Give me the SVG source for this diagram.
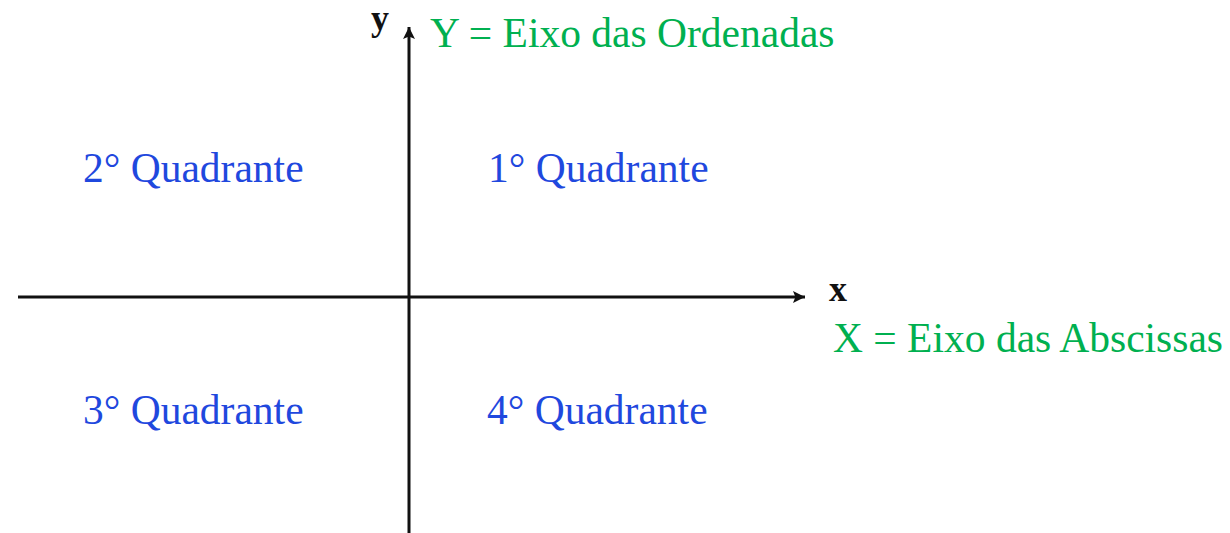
<svg xmlns="http://www.w3.org/2000/svg" width="1230" height="533" viewBox="0 0 1230 533">
<style>
.q{font-family:"Liberation Serif","Times New Roman",serif;font-size:41.5px;fill:#1f48de}
.g{font-family:"Liberation Serif","Times New Roman",serif;font-size:41.5px;fill:#00b050}
.ax{font-family:"Liberation Serif","Times New Roman",serif;font-size:36px;font-weight:bold;fill:#111}
.axis{stroke:#111;stroke-width:3;fill:none}
</style>
<defs>
<marker id="ah" viewBox="0 0 10 10" refX="10" refY="5" markerWidth="4" markerHeight="4" orient="auto" markerUnits="strokeWidth">
<path d="M0,0 L10,5 L0,10 L2,5 z" fill="#111"/>
</marker>
</defs>
<rect width="1230" height="533" fill="#fff"/>
<g id="connectors">
<line class="axis" x1="18" y1="297" x2="805" y2="297" marker-end="url(#ah)"/>
<line class="axis" x1="409" y1="533" x2="409" y2="27" marker-end="url(#ah)"/>
</g>
<g id="label-y"><text class="ax" x="371" y="30">y</text></g>
<g id="label-x"><text class="ax" x="829" y="301">x</text></g>
<g id="eixo-y"><text class="g" x="430" y="47">Y = Eixo das Ordenadas</text></g>
<g id="eixo-x"><text class="g" x="833" y="352">X = Eixo das Abscissas</text></g>
<g id="q1"><text class="q" x="488" y="182">1° Quadrante</text></g>
<g id="q2"><text class="q" x="83" y="182">2° Quadrante</text></g>
<g id="q3"><text class="q" x="83" y="424">3° Quadrante</text></g>
<g id="q4"><text class="q" x="487" y="424">4° Quadrante</text></g>
</svg>
